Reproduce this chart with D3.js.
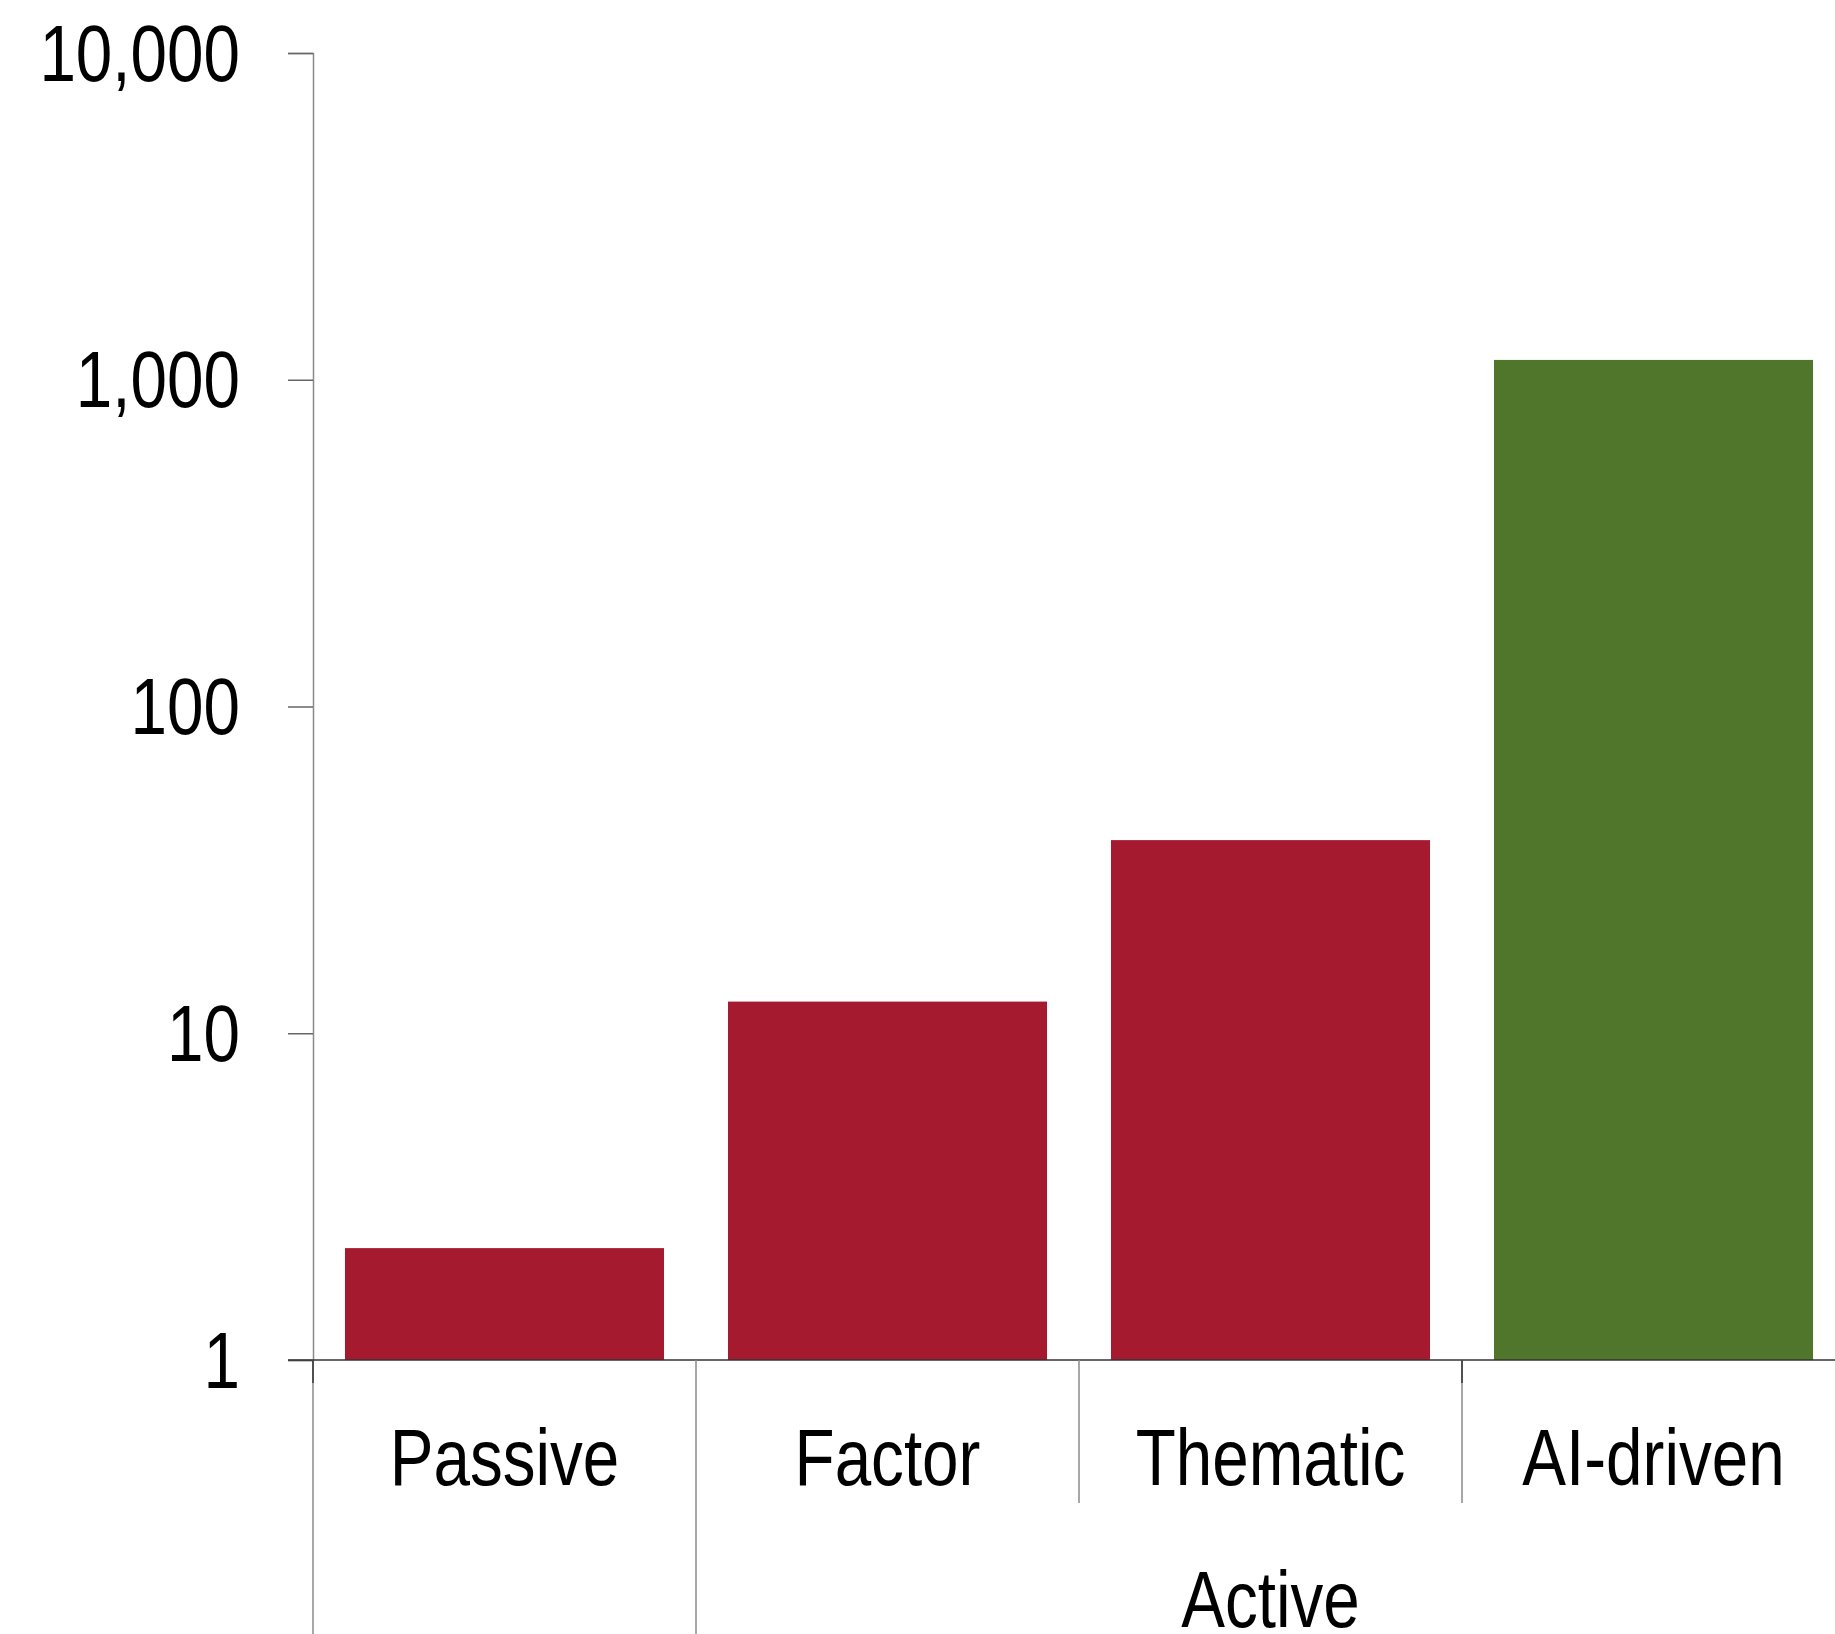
<!DOCTYPE html>
<html>
<head>
<meta charset="utf-8">
<script src="https://cdn.jsdelivr.net/npm/d3@7"></script>
<style>
  html, body { margin: 0; padding: 0; background: #fff; }
  svg text { font-family: "Liberation Sans", Arial, sans-serif; fill: #000; }
</style>
</head>
<body>
<svg id="chart" width="1835" height="1634"></svg>
<script>
// Categories, their outer grouping and values (log scale)
const categories = ["Passive", "Factor", "Thematic", "AI-driven"];
const groups = ["Passive", "Active", "Active", "Active"];
const values = [2.2, 12.5, 39, 1150];
const barColors = ["#A61A30", "#A61A30", "#A61A30", "#50762C"];
const yTicks = [1, 10, 100, 1000, 10000];

const W = 1835, H = 1634;
const plotLeft = 313, plotRight = 1845, plotTop = 53, plotBase = 1360;
const fontSize = 80;
const narrow = 0.82; // horizontal squeeze for a condensed look

const svg = d3.select("#chart");

const x = d3.scaleBand()
  .domain(categories)
  .range([plotLeft, plotRight])
  .paddingInner(0.167)
  .paddingOuter(0.0835);

const y = d3.scaleLog().domain([1, 10000]).range([plotBase, plotTop]);

// Bars
svg.append("g")
  .selectAll("rect")
  .data(categories)
  .join("rect")
  .attr("x", d => x(d))
  .attr("width", x.bandwidth())
  .attr("y", (d, i) => y(values[i]))
  .attr("height", (d, i) => y(1) - y(values[i]))
  .attr("fill", (d, i) => barColors[i]);

// Y axis
const tickLen = 25, tickPad = 48;
const yAxis = svg.append("g")
  .attr("transform", `translate(${plotLeft},0)`)
  .call(d3.axisLeft(y).tickValues(yTicks).tickFormat(d3.format(",")).tickSize(tickLen));
yAxis.select(".domain").attr("stroke", "#8a8a8a").attr("stroke-width", 1.5);
yAxis.selectAll(".tick line").attr("stroke", "#666").attr("stroke-width", 1.5);
yAxis.selectAll(".tick text")
  .attr("x", 0)
  .attr("font-size", fontSize)
  .attr("dy", "0.34em")
  .attr("font-family", '"Liberation Sans", Arial, sans-serif')
  .attr("transform", `translate(${-(tickLen + tickPad)},0) scale(${narrow},1)`);

// Baseline
svg.append("line")
  .attr("x1", plotLeft - tickLen).attr("x2", W)
  .attr("y1", y(1)).attr("y2", y(1))
  .attr("stroke", "#333").attr("stroke-width", 1.5);

// Category boundaries below the baseline
const step = x.step();
const gap = step - x.bandwidth();
const boundaries = categories.map((c, i) => ({
  xPos: x(c) - gap / 2,
  groupEdge: i === 0 || groups[i] !== groups[i - 1]
}));
svg.append("g")
  .selectAll("line")
  .data(boundaries)
  .join("line")
  .attr("x1", d => d.xPos).attr("x2", d => d.xPos)
  .attr("y1", plotBase)
  .attr("y2", d => d.groupEdge ? H : 1503)
  .attr("stroke", "#8a8a8a")
  .attr("stroke-width", 1.5);
// Small dark ticks at the start of the axis and between the last two bars
svg.append("g")
  .selectAll("line")
  .data([boundaries[0], boundaries[3]])
  .join("line")
  .attr("x1", d => d.xPos).attr("x2", d => d.xPos)
  .attr("y1", plotBase).attr("y2", plotBase + 23)
  .attr("stroke", "#333").attr("stroke-width", 1.5);

// Category labels
svg.append("g")
  .selectAll("text")
  .data(categories)
  .join("text")
  .attr("transform", d => `translate(${x(d) + x.bandwidth() / 2},1485) scale(${narrow},1)`)
  .attr("text-anchor", "middle")
  .attr("font-size", fontSize)
  .text(d => d);

// Group labels, centred over the categories they span
const groupNames = Array.from(new Set(groups)).filter(g => groups.filter(v => v === g).length > 1);
svg.append("g")
  .selectAll("text")
  .data(groupNames)
  .join("text")
  .attr("transform", g => {
    const members = categories.filter((c, i) => groups[i] === g);
    const x0 = x(members[0]) - gap / 2;
    const x1 = x(members[members.length - 1]) + x.bandwidth() + gap / 2;
    return `translate(${(x0 + x1) / 2},1627) scale(${narrow},1)`;
  })
  .attr("text-anchor", "middle")
  .attr("font-size", fontSize)
  .text(g => g);
</script>
</body>
</html>
